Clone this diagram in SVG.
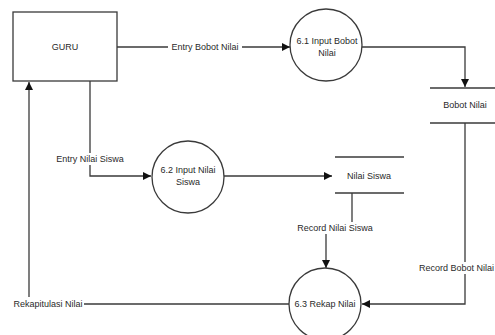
<svg xmlns="http://www.w3.org/2000/svg" width="495" height="335" viewBox="0 0 495 335">
  <style>
    .bg { fill: #ffffff; }
    .shape { fill: #ffffff; stroke: #3a3a3a; stroke-width: 1.3; }
    .store { stroke: #3a3a3a; stroke-width: 1.3; fill: none; }
    .flow { fill: none; stroke: #3a3a3a; stroke-width: 1.3; }
    .lbl { font-family: "Liberation Sans", Arial, sans-serif; font-size: 9px; fill: #2a2a2a; text-anchor: middle; dominant-baseline: central; }
    .lblbg { fill: #ffffff; }
  </style>
  <defs>
    <marker id="arrow" viewBox="0 0 10 10" refX="10" refY="5" markerWidth="8" markerHeight="8" markerUnits="userSpaceOnUse" orient="auto">
      <path d="M0,0 L10,5 L0,10 Z" fill="#111111"/>
    </marker>
  </defs>
  <rect class="bg" x="0" y="0" width="495" height="335"/>

  <!-- data flows -->
  <g id="connectors">
    <path class="flow" d="M117,47 H290" marker-end="url(#arrow)"/>
    <path class="flow" d="M362,47 H465 V87" marker-end="url(#arrow)"/>
    <path class="flow" d="M465,123 V304 H362" marker-end="url(#arrow)"/>
    <path class="flow" d="M90,81 V176 H151" marker-end="url(#arrow)"/>
    <path class="flow" d="M224,176 H332" marker-end="url(#arrow)"/>
    <path class="flow" d="M352,193 V222"/>
    <path class="flow" d="M326,234 V268" marker-end="url(#arrow)"/>
    <path class="flow" d="M289,304 H84"/>
    <path class="flow" d="M29,297 V82" marker-end="url(#arrow)"/>

    <rect class="lblbg" x="168" y="41" width="74" height="12"/>
    <text class="lbl" x="205" y="47">Entry Bobot Nilai</text>
    <rect class="lblbg" x="53" y="153" width="74" height="12"/>
    <text class="lbl" x="90" y="159">Entry Nilai Siswa</text>
    <rect class="lblbg" x="296" y="222" width="78" height="12"/>
    <text class="lbl" x="335" y="228">Record Nilai Siswa</text>
    <rect class="lblbg" x="420" y="262" width="75" height="12"/>
    <text class="lbl" x="494" y="268" style="text-anchor:end">Record Bobot Nilai</text>
    <text class="lbl" x="48" y="304">Rekapitulasi Nilai</text>
  </g>

  <!-- external entity -->
  <g id="guru">
    <rect class="shape" x="13" y="12" width="104" height="69"/>
    <text class="lbl" x="65" y="47">GURU</text>
  </g>

  <!-- processes -->
  <g id="p61">
    <circle class="shape" cx="326" cy="45" r="36"/>
    <text class="lbl" x="327" y="41">6.1  Input Bobot</text>
    <text class="lbl" x="327" y="53">Nilai</text>
  </g>
  <g id="p62">
    <circle class="shape" cx="188" cy="177" r="36"/>
    <text class="lbl" x="188" y="170">6.2  Input Nilai</text>
    <text class="lbl" x="188" y="182">Siswa</text>
  </g>
  <g id="p63">
    <circle class="shape" cx="325" cy="304" r="36"/>
    <text class="lbl" x="325" y="304">6.3 Rekap Nilai</text>
  </g>

  <!-- data stores -->
  <g id="bobot-nilai">
    <line class="store" x1="430" y1="88" x2="495" y2="88"/>
    <line class="store" x1="430" y1="123" x2="495" y2="123"/>
    <text class="lbl" x="465" y="105">Bobot Nilai</text>
  </g>
  <g id="nilai-siswa">
    <line class="store" x1="335" y1="157" x2="404" y2="157"/>
    <line class="store" x1="335" y1="193" x2="404" y2="193"/>
    <text class="lbl" x="369" y="176">Nilai Siswa</text>
  </g>
</svg>
